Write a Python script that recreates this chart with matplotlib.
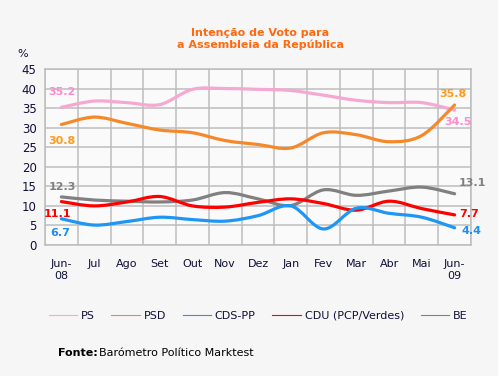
import numpy as np
import matplotlib.pyplot as plt
from matplotlib.path import Path
from matplotlib.patches import PathPatch
from matplotlib.lines import Line2D

months = ['Jun-\n08', 'Jul', 'Ago', 'Set', 'Out', 'Nov', 'Dez', 'Jan',
          'Fev', 'Mar', 'Abr', 'Mai', 'Jun-\n09']
ps = [35.2, 36.8, 36.4, 35.9, 39.8, 40.0, 39.8, 39.5, 38.3, 37.0, 36.4, 36.4, 34.5]
psd = [30.8, 32.7, 31.1, 29.4, 28.7, 26.7, 25.7, 24.8, 28.7, 28.2, 26.4, 28.0, 35.8]
cds = [6.7, 5.1, 6.0, 7.1, 6.5, 6.1, 7.5, 10.0, 4.1, 9.4, 8.1, 7.1, 4.4]
cdu = [11.1, 10.0, 11.0, 12.4, 10.0, 9.7, 10.9, 11.8, 10.6, 8.9, 11.2, 9.3, 7.7]
be = [12.3, 11.5, 11.2, 11.0, 11.5, 13.4, 11.8, 10.1, 14.1, 12.7, 13.8, 14.8, 13.1]

names = ['PS', 'PSD', 'CDS-PP', 'CDU (PCP/Verdes)', 'BE']
line_colors = ['#f5a8d2', '#f5892a', '#1e96f5', '#ff0000', '#808080']
label_colors = ['#ff8ccc', '#ff9a1a', '#1e8ef0', '#ff0000', '#808080']
text_col = '#10103a'

#Catmull-Rom curve through the points, as bezier path
def smooth_path(x, y):
  pts = np.column_stack([x, y]).astype(float)
  n = len(pts)
  verts = [pts[0]]
  codes = [Path.MOVETO]
  for i in range(n - 1):
    p0 = pts[max(i - 1, 0)]
    p1 = pts[i]
    p2 = pts[i + 1]
    p3 = pts[min(i + 2, n - 1)]
    verts += [p1 + (p2 - p0) / 6, p2 - (p3 - p1) / 6, p2]
    codes += [Path.CURVE4] * 3
  return Path(verts, codes)

fig = plt.figure(figsize=(4.98, 3.76), dpi=100, facecolor='#f6f6f6')
ax = fig.add_axes([45/498, 1 - 245/376, 426/498, 176/376])
ax.set_facecolor('#fafafa')

x = np.arange(len(months))
series = [ps, psd, cds, cdu, be]
draw_order = [0, 1, 4, 3, 2]
for k in draw_order:
  patch = PathPatch(smooth_path(x, series[k]), fill=False, edgecolor=line_colors[k],
                    lw=2.3, capstyle='round', joinstyle='round', zorder=3)
  ax.add_patch(patch)

ax.set_xlim(-0.5, len(months) - 0.5)
ax.set_ylim(0, 45)
ax.set_yticks(np.arange(0, 46, 5))
ax.set_xticks(x)
ax.set_xticklabels(months, fontsize=8, color=text_col, linespacing=1.3)
ax.set_xticks(np.arange(-0.5, len(months), 1), minor=True)
ax.tick_params(axis='x', which='major', length=0, pad=10)
ax.tick_params(axis='x', which='minor', length=0)
ax.tick_params(axis='y', length=0, pad=6, labelsize=8.5, labelcolor=text_col)
ax.grid(True, which='minor', axis='x', color='#bdbdbd', lw=1.1)
ax.grid(True, which='major', axis='y', color='#bdbdbd', lw=1.1)
for s in ax.spines.values():
  s.set_color('#bdbdbd')
  s.set_linewidth(1.1)

#value labels at start and end
def lab(val, i, col, dx, dy, ha='center'):
  ax.annotate(f'{val}', (x[i], val), xytext=(dx, dy), textcoords='offset pixels',
              ha=ha, va='center', color=col, fontsize=8, fontweight='bold',
              annotation_clip=False)

lab(ps[0], 0, label_colors[0], 1, 15)
lab(psd[0], 0, label_colors[1], 1, -16)
lab(be[0], 0, label_colors[4], 1, 10)
lab(cdu[0], 0, label_colors[3], -4, -12)
lab(cds[0], 0, label_colors[2], -1, -14)
lab(psd[-1], 12, label_colors[1], -2, 11)
lab(ps[-1], 12, label_colors[0], 3, -12)
lab(be[-1], 12, label_colors[4], 18, 11)
lab(cdu[-1], 12, label_colors[3], 15, 1)
lab(cds[-1], 12, label_colors[2], 17, -3)

fig.text(260/498, 1 - 39/376, 'Intenção de Voto para\na Assembleia da República',
         ha='center', va='center', color='#ff6a10', fontsize=8, fontweight='bold',
         linespacing=1.2)
fig.text(23/498, 1 - 54/376, '%', ha='center', va='center', color=text_col, fontsize=8)

handles = [Line2D([], [], color=c, lw=0.8) for c in line_colors]
fig.legend(handles, names, loc='center', bbox_to_anchor=(258/498, 1 - 316/376), ncol=5,
           frameon=False, fontsize=8, handlelength=2.6, handletextpad=0.3,
           columnspacing=1.5, labelcolor=text_col)

fig.text(58/498, 1 - 353/376, 'Fonte:', ha='left', va='center', color='#000000',
         fontsize=8, fontweight='bold')
fig.text(99/498, 1 - 353/376, 'Barómetro Político Marktest', ha='left', va='center',
         color='#000000', fontsize=8)

fig.savefig('out.png', dpi=100, facecolor=fig.get_facecolor())
